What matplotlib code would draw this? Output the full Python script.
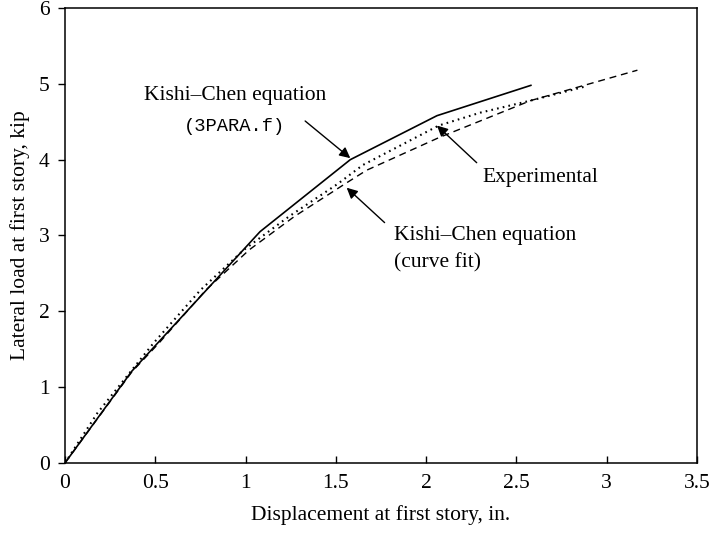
import matplotlib
matplotlib.use("Agg")
import matplotlib.pyplot as plt
from matplotlib.ticker import FixedLocator

plt.rcParams.update({
    'font.family': 'Liberation Serif',
    'font.size': 15.5,
    'axes.linewidth': 1.1,
})

# Kishi-Chen equation, 3PARA.f parameters
disp_3para = [0.0, 0.37, 1.08, 1.58, 2.06, 2.58]
load_3para = [0.0, 1.21, 3.05, 4.00, 4.58, 4.98]

# Experimental
disp_exp = [0.0, 0.18, 0.49, 0.75, 0.99, 1.24, 1.51, 1.65, 2.07, 2.30, 2.58, 2.89]
load_exp = [0.0, 0.66, 1.58, 2.28, 2.81, 3.25, 3.68, 3.93, 4.45, 4.62, 4.78, 4.97]

# Kishi-Chen equation, curve fit parameters
disp_fit = [0.0, 0.37, 0.52, 0.78, 1.02, 1.27, 1.55, 1.67, 2.07, 2.58, 3.17]
load_fit = [0.0, 1.20, 1.58, 2.28, 2.81, 3.25, 3.68, 3.86, 4.29, 4.78, 5.18]

fig = plt.figure(figsize=(7.1, 5.34), dpi=100)
ax = fig.add_axes([0.0915, 0.133, 0.8902, 0.852])

ax.plot(disp_3para, load_3para, '-', color='k', lw=1.2)
ax.plot(disp_exp, load_exp, color='k', lw=1.5, linestyle=(0, (0.8, 2.0)))
ax.plot(disp_fit, load_fit, color='k', lw=1.0, linestyle=(0, (5, 3.5)))

ax.set_xlim(0, 3.5)
ax.set_ylim(0, 6)
ax.set_xticks([0, 0.5, 1, 1.5, 2, 2.5, 3, 3.5])
ax.set_xticklabels(['0', '0.5', '1', '1.5', '2', '2.5', '3', '3.5'])
ax.set_yticks([0, 1, 2, 3, 4, 5, 6])
ax.tick_params(axis='x', direction='in', length=5, width=1, pad=8)
ax.tick_params(axis='y', direction='out', length=5, width=1, pad=6)
# spines poke a little below the x axis at both ends
ax.xaxis.set_minor_locator(FixedLocator([0, 3.5]))
ax.tick_params(axis='x', which='minor', direction='out', length=5, width=1)

ax.set_xlabel('Displacement at first story, in.', labelpad=9)
ax.set_ylabel('Lateral load at first story, kip', labelpad=6)

arrow = dict(arrowstyle='-|>', color='k', lw=1.0, mutation_scale=16,
             shrinkA=0, shrinkB=0)

ax.annotate('', xy=(1.58, 4.02), xytext=(1.33, 4.51), arrowprops=arrow)
ax.text(0.94, 4.84, 'Kishi\u2013Chen equation', ha='center', va='center')
ax.text(0.94, 4.44, '(3PARA.f)', ha='center', va='center', fontsize=13.5,
        family='Liberation Mono')

ax.annotate('', xy=(2.06, 4.45), xytext=(2.28, 3.96), arrowprops=arrow)
ax.text(2.63, 3.76, 'Experimental', ha='center', va='center')

ax.annotate('', xy=(1.56, 3.63), xytext=(1.77, 3.17), arrowprops=arrow)
ax.text(1.82, 3.00, 'Kishi\u2013Chen equation', ha='left', va='center')
ax.text(1.82, 2.64, '(curve fit)', ha='left', va='center')

fig.savefig('out.png', dpi=100)
